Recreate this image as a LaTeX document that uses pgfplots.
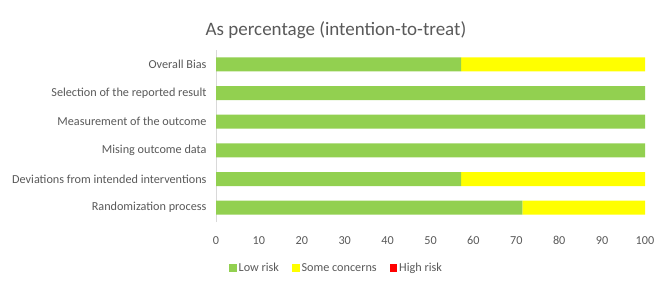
\documentclass[border=0pt]{standalone}
\usepackage{pgfplots}
\pgfplotsset{compat=1.18}
\usepackage{fontspec}
\setmainfont{Carlito}
\definecolor{lowc}{HTML}{92D050}
\definecolor{somec}{HTML}{FFFF00}
\definecolor{highc}{HTML}{FF0000}
\definecolor{txt}{HTML}{595959}
\definecolor{axc}{HTML}{D9D9D9}
\begin{document}
\begin{tikzpicture}[x=1pt,y=1pt]
\path[use as bounding box] (0,0) rectangle (669,287);
\node[text=txt,font=\fontsize{19}{22}\selectfont] at (336,257) {As percentage (intention-to-treat)};
\begin{axis}[
  at={(216pt,65pt)}, anchor=south west,
  scale only axis, width=429pt, height=172pt,
  xbar stacked, bar width=14pt,
  xmin=0, xmax=100, ymin=-0.5, ymax=5.5,
  xtick={0,10,...,100},
  ytick={0,...,5},
  yticklabels={Randomization process, Deviations from intended interventions, Mising outcome data, Measurement of the outcome, Selection of the reported result, Overall Bias},
  axis lines*=left,
  x axis line style={draw=none},
  y axis line style={draw=axc},
  major tick length=0pt,
  /pgf/number format/assume math mode=true,
  tick label style={text=txt, font=\fontsize{12.2}{14}\selectfont},
  xticklabel style={yshift=-11pt},
  yticklabel style={xshift=-6pt},
  legend columns=3,
  legend style={at={(0.281,-0.267)}, anchor=center, draw=none, fill=none,
    font=\fontsize{12.2}{14}\selectfont, text=txt,
    /tikz/every even column/.append style={column sep=11pt}},
  legend image code/.code={\fill[#1] (0pt,-3.7pt) rectangle (7.5pt,3.7pt);},
]
\addplot[fill=lowc, draw=none] coordinates {(71.43,0) (57.14,1) (100,2) (100,3) (100,4) (57.14,5)};
\addplot[fill=somec, draw=none] coordinates {(28.57,0) (42.86,1) (0,2) (0,3) (0,4) (42.86,5)};
\addplot[fill=highc, draw=none] coordinates {(0,0) (0,1) (0,2) (0,3) (0,4) (0,5)};
\legend{Low risk, Some concerns, High risk}
\end{axis}
\end{tikzpicture}
\end{document}
